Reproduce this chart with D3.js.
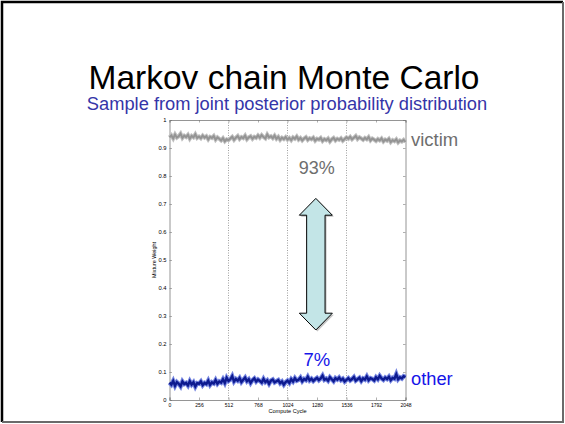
<!DOCTYPE html>
<html>
<head>
<meta charset="utf-8">
<script src="https://cdn.jsdelivr.net/npm/d3@7"></script>
<style>
    body { margin: 0; background: #fff; }
    svg text { font-family: "Liberation Sans", Arial, sans-serif; }
</style>
</head>
<body>
<div id="chart"></div>
<script>

// tick labels of the matlab plot
var xTicks = [0, 256, 512, 768, 1024, 1280, 1536, 1792, 2048];
var yTicks = [0, 0.1, 0.2, 0.3, 0.4, 0.5, 0.6, 0.7, 0.8, 0.9, 1];
var splitCycles = [512, 1024, 1536];

// mixture weight traces (one value every 16 cycles)
var victimWeight = [
    0.938,0.945,0.934,0.948,0.937,0.942,0.951,0.936,0.944,0.939,0.947,0.933,0.943,0.938,0.949,0.936,0.941,
    0.935,0.944,0.937,0.942,0.931,0.940,0.936,0.943,0.930,0.938,0.933,0.927,0.935,0.924,0.931,0.928,
    0.934,0.940,0.929,0.937,0.943,0.932,0.939,0.935,0.944,0.931,0.938,0.942,0.933,0.940,0.936,0.945,
    0.937,0.946,0.939,0.934,0.948,0.938,0.942,0.935,0.944,0.933,0.940,0.929,0.937,0.932,0.939,0.930,
    0.936,0.928,0.938,0.933,0.941,0.930,0.936,0.927,0.934,0.939,0.929,0.935,0.931,0.937,0.926,0.933,
    0.930,0.936,0.925,0.932,0.928,0.934,0.923,0.931,0.936,0.927,0.933,0.929,0.935,0.926,0.932,0.938,
    0.933,0.940,0.931,0.937,0.943,0.932,0.938,0.934,0.929,0.936,0.931,0.939,0.927,0.934,0.930,0.925,
    0.932,0.927,0.934,0.923,0.930,0.926,0.933,0.921,0.928,0.924,0.931,0.920,0.927,0.923,0.929,0.922
];
var otherWeight = [
    0.062,0.055,0.068,0.051,0.064,0.058,0.049,0.066,0.057,0.061,0.052,0.067,0.055,0.063,0.048,0.060,0.058,
    0.066,0.053,0.061,0.057,0.069,0.054,0.063,0.059,0.071,0.058,0.066,0.062,0.074,0.061,0.079,0.068,
    0.073,0.085,0.066,0.075,0.069,0.078,0.064,0.072,0.080,0.067,0.074,0.061,0.071,0.077,0.066,0.073,
    0.068,0.062,0.075,0.064,0.070,0.058,0.069,0.073,0.063,0.067,0.071,0.060,0.066,0.055,0.064,0.069,
    0.061,0.074,0.066,0.078,0.069,0.072,0.080,0.067,0.075,0.071,0.083,0.070,0.076,0.068,0.074,0.079,
    0.071,0.077,0.087,0.072,0.076,0.069,0.081,0.074,0.067,0.078,0.073,0.080,0.071,0.076,0.066,0.072,
    0.078,0.070,0.075,0.082,0.069,0.074,0.079,0.068,0.077,0.073,0.084,0.071,0.078,0.075,0.070,0.081,
    0.074,0.086,0.077,0.072,0.080,0.075,0.083,0.071,0.079,0.076,0.092,0.074,0.081,0.077,0.085,0.082
];

var width = 565,
    height = 424;
var plot = {left: 169.5, right: 405.5, top: 120, bottom: 400};

var svg = d3.select("#chart").append("svg")
    .attr("width", width)
    .attr("height", height);

svg.append("rect")
    .attr("width", width).attr("height", height)
    .attr("fill", "#fff");

// slide frame
svg.append("path").attr("d", "M2,422 L2,2 L563,2")
    .attr("fill", "none").attr("stroke", "#000").attr("stroke-width", 2.5);
svg.append("path").attr("d", "M563,2 L563,422 L2,422")
    .attr("fill", "none").attr("stroke", "#6a6a6a").attr("stroke-width", 2);

// titles
svg.append("text")
    .attr("x", 284).attr("y", 88.5)
    .attr("text-anchor", "middle")
    .style("font-size", "33.5px")
    .attr("fill", "#000")
    .text("Markov chain Monte Carlo");

svg.append("text")
    .attr("x", 287).attr("y", 109.5)
    .attr("text-anchor", "middle")
    .style("font-size", "18.3px")
    .attr("fill", "#3535a8")
    .text("Sample from joint posterior probability distribution");

// scales
var x = d3.scaleLinear().domain([0, 2048]).range([plot.left, plot.right]);
var y = d3.scaleLinear().domain([0, 1]).range([plot.bottom, plot.top]);

function cycleOf(i, n) { return i * 2048 / (n - 1); }

// axes, matlab style: ticks inward on all sides
var gx = svg.append("g")
    .attr("transform", "translate(0," + plot.bottom + ")")
    .call(d3.axisBottom(x).tickValues(xTicks).tickSize(-2.5).tickPadding(3).tickFormat(d3.format("d")));
var gxTop = svg.append("g")
    .attr("transform", "translate(0," + plot.top + ")")
    .call(d3.axisTop(x).tickValues(xTicks).tickSize(-2.5).tickFormat(""));
var gy = svg.append("g")
    .attr("transform", "translate(" + plot.left + ",0)")
    .call(d3.axisLeft(y).tickValues(yTicks).tickSize(-2.5).tickPadding(3).tickFormat(function(d){ return d === 0 || d === 1 ? d : d3.format(".1f")(d); }));
var gyRight = svg.append("g")
    .attr("transform", "translate(" + plot.right + ",0)")
    .call(d3.axisRight(y).tickValues(yTicks).tickSize(-2.5).tickFormat(""));

[gx, gxTop, gy, gyRight].forEach(function(g){
    g.select(".domain").attr("stroke", "#7a7a7a").attr("stroke-width", 0.8);
    g.selectAll(".tick line").attr("stroke", "#7a7a7a").attr("stroke-width", 0.6);
    g.selectAll(".tick text").attr("fill", "#000")
        .style("font-family", "'Liberation Sans', Arial, sans-serif");
});
gx.selectAll(".tick text").style("font-size", "5px");
gy.selectAll(".tick text").style("font-size", "5.8px");

// dotted split lines
svg.selectAll(".split")
    .data(splitCycles)
    .enter().append("line")
    .attr("class", "split")
    .attr("x1", function(d){ return x(d); })
    .attr("x2", function(d){ return x(d); })
    .attr("y1", plot.top).attr("y2", plot.bottom)
    .attr("stroke", "#777").attr("stroke-width", 0.7)
    .attr("stroke-dasharray", "1,1.5");

// axis labels
svg.append("text")
    .attr("x", (plot.left + plot.right) / 2).attr("y", 413)
    .attr("text-anchor", "middle")
    .style("font-size", "5.6px")
    .text("Compute Cycle");

svg.append("text")
    .attr("transform", "translate(156," + (plot.top + plot.bottom) / 2 + ") rotate(-90)")
    .attr("text-anchor", "middle")
    .style("font-size", "5.4px")
    .text("Mixture Weight");

// traces
var line = d3.line()
    .x(function(d, i, arr){ return x(cycleOf(i, arr.length)); })
    .y(function(d){ return y(d); });

svg.append("path").datum(victimWeight)
    .attr("d", line).attr("fill", "none")
    .attr("stroke", "#c0c0c0").attr("stroke-width", 4);
svg.append("path").datum(victimWeight)
    .attr("d", line).attr("fill", "none")
    .attr("stroke", "#949494").attr("stroke-width", 2);

svg.append("path").datum(otherWeight)
    .attr("d", line).attr("fill", "none")
    .attr("stroke", "#7585e0").attr("stroke-width", 4.5);
svg.append("path").datum(otherWeight)
    .attr("d", line).attr("fill", "none")
    .attr("stroke", "#0d1a8f").attr("stroke-width", 2.4);

// double arrow annotation
var cx = x(1270),
    yTop = y(0.72), yHeadTop = y(0.66),
    yHeadBot = y(0.31), yBot = y(0.25),
    head = 16.5, shaft = 9.2;
var arrowPts = [
    [cx, yTop], [cx + head, yHeadTop], [cx + shaft, yHeadTop],
    [cx + shaft, yHeadBot], [cx + head, yHeadBot], [cx, yBot],
    [cx - head, yHeadBot], [cx - shaft, yHeadBot], [cx - shaft, yHeadTop],
    [cx - head, yHeadTop]
];
svg.append("polygon")
    .attr("points", arrowPts.map(function(p){ return p.join(","); }).join(" "))
    .attr("transform", "translate(1.5,1.5)")
    .attr("fill", "#9a9a9a").attr("opacity", 0.6);
svg.append("polygon")
    .attr("points", arrowPts.map(function(p){ return p.join(","); }).join(" "))
    .attr("fill", "#c3e5e7").attr("stroke", "#000").attr("stroke-width", 1);

// annotations
svg.append("text")
    .attr("x", cx + 1).attr("y", 174)
    .attr("text-anchor", "middle")
    .style("font-size", "18px")
    .attr("fill", "#6e6e6e")
    .text("93%");

svg.append("text")
    .attr("x", cx + 1).attr("y", 366)
    .attr("text-anchor", "middle")
    .style("font-size", "18.5px")
    .attr("fill", "#1515e8")
    .text("7%");

svg.append("text")
    .attr("x", 411).attr("y", 145.5)
    .style("font-size", "18.5px")
    .attr("fill", "#6e6e6e")
    .text("victim");

svg.append("text")
    .attr("x", 411).attr("y", 385)
    .style("font-size", "18.3px")
    .attr("fill", "#1515e8")
    .text("other");

</script>
</body>
</html>
